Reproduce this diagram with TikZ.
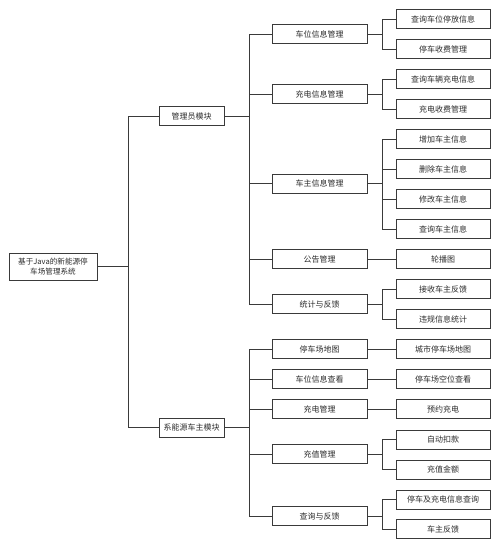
\documentclass[tikz,border=0pt]{standalone}
\usepackage{fontspec}
\setmainfont{Noto Sans CJK SC}
\usetikzlibrary{positioning}
\definecolor{linegray}{RGB}{58,58,58}
\definecolor{textgray}{RGB}{45,45,45}
\tikzset{every node/.style={font=\fontsize{8}{10.5}\selectfont, text=textgray},
  box/.style={draw=linegray, line width=0.9pt, minimum height=19pt, inner sep=0pt, fill=white},
  rootbox/.style={box, minimum width=88pt, minimum height=27pt, align=center, font=\fontsize{7.6}{10}\selectfont},
  modbox/.style={box, minimum width=65pt},
  subbox/.style={box, minimum width=95pt},
  leafbox/.style={box, minimum width=94pt},
  link/.style={draw=linegray, line width=0.9pt}}

\begin{document}
\begin{tikzpicture}[x=1pt, y=-1pt]
            \useasboundingbox (0,0) rectangle (500,548);
            \node[rootbox] (root) at (53, 266.5) {基于Java的新能源停\\车场管理系统};
            \node[modbox] (admin) at (191.5, 116) {管理员模块};
            \node[modbox] (owner) at (191.5, 427.5) {系能源车主模块};

            \node[subbox] (parkinfo) at (319.5, 34) {车位信息管理};
            \node[subbox] (chginfo) at (319.5, 94) {充电信息管理};
            \node[subbox] (ownerinfo) at (319.5, 183.5) {车主信息管理};
            \node[subbox] (notice) at (319.5, 259) {公告管理};
            \node[subbox] (stats) at (319.5, 304) {统计与反馈};
            \node[subbox] (map) at (319.5, 349) {停车场地图};
            \node[subbox] (spotview) at (319.5, 379) {车位信息查看};
            \node[subbox] (charge) at (319.5, 409) {充电管理};
            \node[subbox] (topup) at (319.5, 454) {充值管理};
            \node[subbox] (query) at (319.5, 516) {查询与反馈};

            \node[leafbox] (l1) at (443, 19) {查询车位停放信息};
            \node[leafbox] (l2) at (443, 49) {停车收费管理};
            \node[leafbox] (l3) at (443, 79) {查询车辆充电信息};
            \node[leafbox] (l4) at (443, 109) {充电收费管理};
            \node[leafbox] (l5) at (443, 139) {增加车主信息};
            \node[leafbox] (l6) at (443, 169) {删除车主信息};
            \node[leafbox] (l7) at (443, 199) {修改车主信息};
            \node[leafbox] (l8) at (443, 229) {查询车主信息};
            \node[leafbox] (l9) at (443, 259) {轮播图};
            \node[leafbox] (l10) at (443, 289) {接收车主反馈};
            \node[leafbox] (l11) at (443, 319) {违规信息统计};
            \node[leafbox] (l12) at (443, 349) {城市停车场地图};
            \node[leafbox] (l13) at (443, 379) {停车场空位查看};
            \node[leafbox] (l14) at (443, 409) {预约充电};
            \node[leafbox] (l15) at (443, 439.5) {自动扣款};
            \node[leafbox] (l16) at (443, 469.5) {充值金额};
            \node[leafbox] (l17) at (443, 499.5) {停车及充电信息查询};
            \node[leafbox] (l18) at (443, 529) {车主反馈};

            % root to modules
            \draw[link] (root.east) -- ++(31,0) |- (admin.west);
            \draw[link] (root.east) -- ++(31,0) |- (owner.west);

            % modules to sub modules
            \draw[link] (admin.east) -- ++(25,0) |- (parkinfo.west);
            \draw[link] (admin.east) -- ++(25,0) |- (chginfo.west);
            \draw[link] (admin.east) -- ++(25,0) |- (ownerinfo.west);
            \draw[link] (admin.east) -- ++(25,0) |- (notice.west);
            \draw[link] (admin.east) -- ++(25,0) |- (stats.west);
            \draw[link] (owner.east) -- ++(25,0) |- (map.west);
            \draw[link] (owner.east) -- ++(25,0) |- (spotview.west);
            \draw[link] (owner.east) -- ++(25,0) |- (charge.west);
            \draw[link] (owner.east) -- ++(25,0) |- (topup.west);
            \draw[link] (owner.east) -- ++(25,0) |- (query.west);

            % sub modules to functions
            \draw[link] (parkinfo.east) -- ++(15,0) |- (l1.west);
            \draw[link] (parkinfo.east) -- ++(15,0) |- (l2.west);
            \draw[link] (chginfo.east) -- ++(15,0) |- (l3.west);
            \draw[link] (chginfo.east) -- ++(15,0) |- (l4.west);
            \draw[link] (ownerinfo.east) -- ++(15,0) |- (l5.west);
            \draw[link] (ownerinfo.east) -- ++(15,0) |- (l6.west);
            \draw[link] (ownerinfo.east) -- ++(15,0) |- (l7.west);
            \draw[link] (ownerinfo.east) -- ++(15,0) |- (l8.west);
            \draw[link] (notice.east) -- (l9.west);
            \draw[link] (stats.east) -- ++(15,0) |- (l10.west);
            \draw[link] (stats.east) -- ++(15,0) |- (l11.west);
            \draw[link] (map.east) -- (l12.west);
            \draw[link] (spotview.east) -- (l13.west);
            \draw[link] (charge.east) -- (l14.west);
            \draw[link] (topup.east) -- ++(15,0) |- (l15.west);
            \draw[link] (topup.east) -- ++(15,0) |- (l16.west);
            \draw[link] (query.east) -- ++(15,0) |- (l17.west);
            \draw[link] (query.east) -- ++(15,0) |- (l18.west);
        \end{tikzpicture}
\end{document}
